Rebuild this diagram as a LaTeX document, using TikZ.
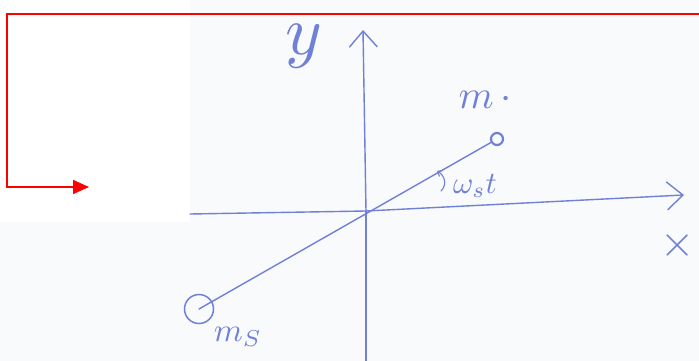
\documentclass[tikz,border=0pt]{standalone}
\usepackage{amsmath}
\usepackage{graphicx}
\usepackage{tikz}
\usetikzlibrary{arrows.meta, positioning, calc}

\definecolor{pen}{HTML}{6F80D8}
\definecolor{paper}{HTML}{F9FAFB}

\newcommand{\bigsym}[2]{\scalebox{#1}{$#2$}}

\begin{document}
\begin{tikzpicture}[
  x=1pt, y=-1pt,
  ink/.style={draw=pen, line width=1.4pt, line cap=round},
  axis/.style={ink, -{Straight Barb[length=16pt, width=28pt, line width=1.4pt]}},
  mass/.style={circle, draw=pen, line width=#1, inner sep=0pt},
  lbl/.style={text=pen, inner sep=0pt},
  redarr/.style={draw=red, line width=1.6pt, -{Triangle[length=16pt, width=14pt]}}
]

% Paper
\useasboundingbox (0,0) rectangle (699,361);
\fill[paper] (0,0) rectangle (699,361);
\fill[white] (0,0) rectangle (190,222);

% Axes
\coordinate (o)    at (366,211);
\coordinate (xl)   at (190,214);
\coordinate (xr)   at (684,195);
\coordinate (yb)   at (366,361);
\coordinate (yt)   at (363,30);
\draw[ink] (xl) -- (o);
\draw[axis] (o) -- (xr);
\draw[ink] (yb) -- (o);
\draw[axis] (o) -- (yt);

% Masses
\node[mass=2.2pt, minimum size=12pt] (m)  at (497,139) {};
\node[mass=1.5pt, minimum size=29pt] (ms) at (199,309) {};
\draw[ink] (ms.center) -- (m);

% Labels
\node[lbl] (ylbl)  at (304,46)  {\bigsym{7}{y}};
\node[lbl] (xlbl)  at (678,245) {\bigsym{4.4}{\times}};
\node[lbl] (mlbl)  at (485,100) {\bigsym{4}{m\,\cdot}};
\node[lbl] (wlbl)  at (475,186) {\bigsym{3.1}{\omega_{s}t}};
\node[lbl] (mslbl) at (238,337) {\bigsym{3.3}{m_{S}}};

% Angle hook
\coordinate (hk) at (437,171);
\draw[ink, line width=1.1pt, -{Straight Barb[length=4pt, width=7pt]}]
  (441,191) .. controls (448,184) and (444,175) .. (hk);

% Red pointer
\coordinate (r0) at (702,14);
\coordinate (r1) at (7,14);
\coordinate (r2) at (7,187);
\coordinate (r3) at (89,187);
\draw[redarr] (r0) -- (r1) -- (r2) -- (r3);

\end{tikzpicture}
\end{document}
